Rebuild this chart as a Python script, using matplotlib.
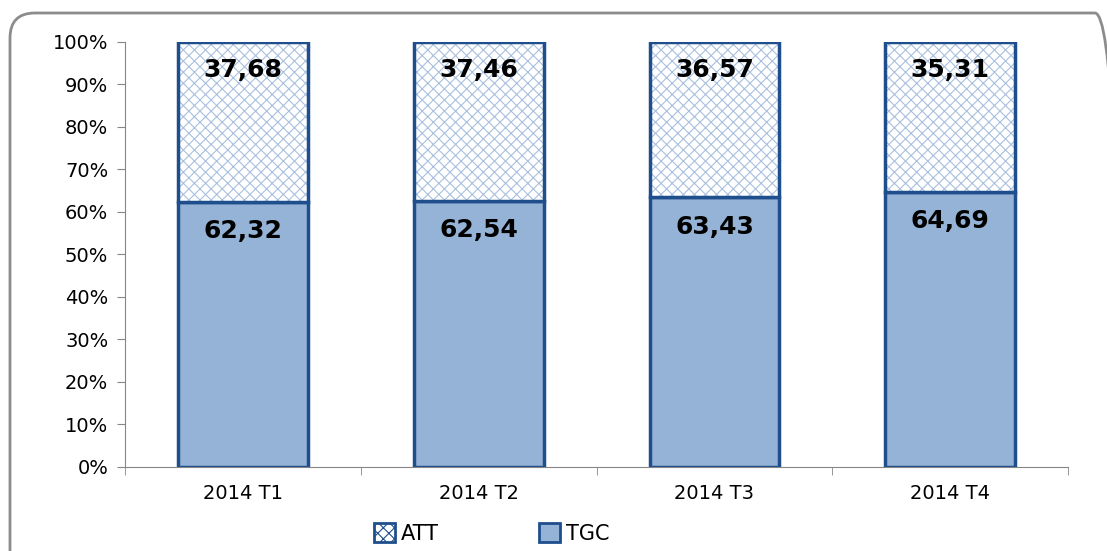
import matplotlib.pyplot as plt
from matplotlib.patches import Patch, FancyBboxPatch

# data
quarters = ["2014 T1", "2014 T2", "2014 T3", "2014 T4"]
tgc = [62.32, 62.54, 63.43, 64.69]
att = [37.68, 37.46, 36.57, 35.31]

DARK = "#1F4E8C"
FILL = "#95B3D7"
HATCH = "#A9C0DE"


def fmt(v):
    return f"{v:.2f}".replace(".", ",")


plt.rcParams["hatch.linewidth"] = 0.8

fig = plt.figure(figsize=(11.07, 5.51), dpi=100)
ax = fig.add_axes([0.1129, 0.1525, 0.852, 0.7713])

x = range(len(quarters))
w = 0.55

ax.bar(x, tgc, width=w, color=FILL, edgecolor=DARK, linewidth=2.5, zorder=2)
# hatched part: light blue hatch, then dark outline on top
ax.bar(x, att, bottom=tgc, width=w, color="white", edgecolor=HATCH,
       hatch="xxx", linewidth=0, zorder=2)
ax.bar(x, att, bottom=tgc, width=w, fill=False, edgecolor=DARK,
       linewidth=2.5, zorder=3)

for i in x:
    ax.annotate(fmt(tgc[i]), (i, tgc[i]), xytext=(0, -21), textcoords="offset points",
                ha="center", va="center", fontsize=18, fontweight="bold", zorder=4)
    ax.annotate(fmt(att[i]), (i, 100), xytext=(0, -20), textcoords="offset points",
                ha="center", va="center", fontsize=18, fontweight="bold", zorder=4)

ax.set_xlim(-0.5, len(quarters) - 0.5)
ax.set_ylim(0, 100)
ax.set_yticks(range(0, 101, 10))
ax.set_yticklabels([f"{v}%" for v in range(0, 101, 10)], fontsize=14)
ax.set_xticks(list(x))
ax.set_xticklabels(quarters, fontsize=14)
ax.set_xticks([i - 0.5 for i in range(len(quarters) + 1)], minor=True)
ax.tick_params(axis="x", which="major", length=0, pad=12)
ax.tick_params(axis="x", which="minor", length=6, color="#868686")
ax.tick_params(axis="y", length=6, color="#868686", pad=6)

for side in ["top", "right"]:
    ax.spines[side].set_visible(False)
for side in ["left", "bottom"]:
    ax.spines[side].set_color("#868686")

handles = [
    Patch(facecolor="white", edgecolor=DARK, hatch="xxx", linewidth=2, label="ATT"),
    Patch(facecolor=FILL, edgecolor=DARK, linewidth=2, label="TGC"),
]
fig.legend(handles=handles, loc="center", bbox_to_anchor=(0.444, 0.032), ncol=2,
           frameon=False, fontsize=15, handlelength=1.0, handleheight=1.0,
           handletextpad=0.3, columnspacing=4.8)

# rounded chart border, running off the right and bottom edges
border = FancyBboxPatch((0.10, -0.25), 11.1, 5.63, boxstyle="round,pad=0,rounding_size=0.25",
                        transform=fig.dpi_scale_trans, fill=False, edgecolor="#8C8C8C",
                        linewidth=2)
fig.patches.append(border)

fig.savefig("out.png", dpi=100)
